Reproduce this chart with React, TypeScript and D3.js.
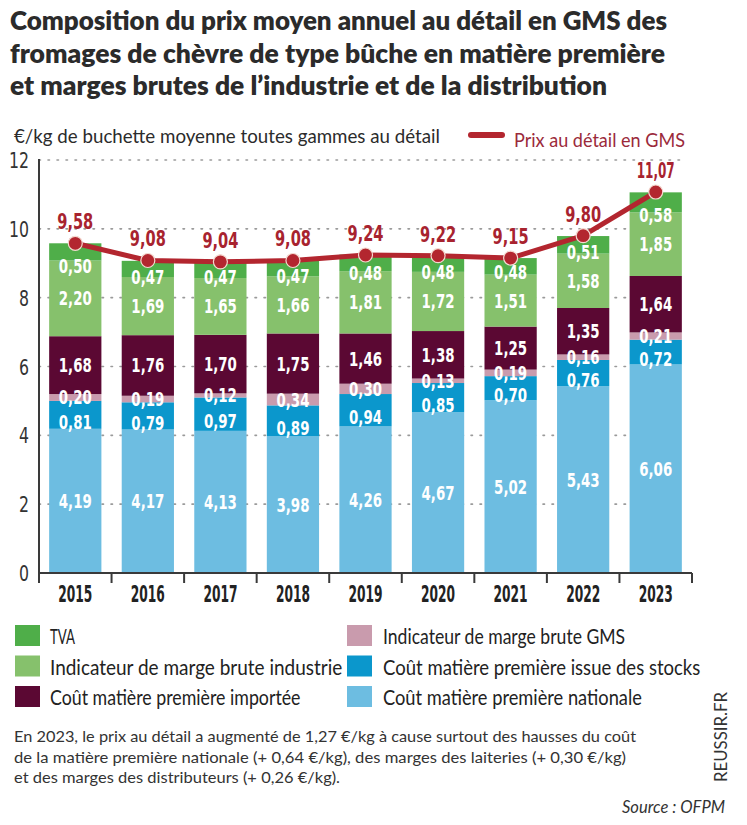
import React from "react";
import * as d3 from "d3";

const years = ["2015", "2016", "2017", "2018", "2019", "2020", "2021", "2022", "2023"];
const national = [4.19, 4.17, 4.13, 3.98, 4.26, 4.67, 5.02, 5.43, 6.06];
const stocks = [0.81, 0.79, 0.97, 0.89, 0.94, 0.85, 0.70, 0.76, 0.72];
const gms = [0.20, 0.19, 0.12, 0.34, 0.30, 0.13, 0.19, 0.16, 0.21];
const importee = [1.68, 1.76, 1.70, 1.75, 1.46, 1.38, 1.25, 1.35, 1.64];
const industrie = [2.20, 1.69, 1.65, 1.66, 1.81, 1.72, 1.51, 1.58, 1.85];
const tva = [0.50, 0.47, 0.47, 0.47, 0.48, 0.48, 0.48, 0.51, 0.58];
const prix = [9.58, 9.08, 9.04, 9.08, 9.24, 9.22, 9.15, 9.80, 11.07];
const yTicks = [0, 2, 4, 6, 8, 10, 12];

const seriesKeys = ["national", "stocks", "gms", "importee", "industrie", "tva"];
const seriesValues: Record<string, number[]> = { national, stocks, gms, importee, industrie, tva };
const seriesColors: Record<string, string> = {
  national: "#6dbde1",
  stocks: "#0b97cc",
  gms: "#c99bad",
  importee: "#5b0833",
  industrie: "#86c16c",
  tva: "#4fae49",
};
const legendItems = [
  { key: "tva", label: "TVA", col: 0, row: 0 },
  { key: "industrie", label: "Indicateur de marge brute industrie", col: 0, row: 1 },
  { key: "importee", label: "Coût matière première importée", col: 0, row: 2 },
  { key: "gms", label: "Indicateur de marge brute GMS", col: 1, row: 0 },
  { key: "stocks", label: "Coût matière première issue des stocks", col: 1, row: 1 },
  { key: "national", label: "Coût matière première nationale", col: 1, row: 2 },
];
const titleLines = [
  { text: "Composition du prix moyen annuel au détail en GMS des", w: 657 },
  { text: "fromages de chèvre de type bûche en matière première", w: 655 },
  { text: "et marges brutes de l’industrie et de la distribution", w: 597 },
];
const noteLines = [
  { text: "En 2023, le prix au détail a augmenté de 1,27 €/kg à cause surtout des hausses du coût", w: 622 },
  { text: "de la matière première nationale (+ 0,64 €/kg), des marges des laiteries (+ 0,30 €/kg)", w: 612 },
  { text: "et des marges des distributeurs (+ 0,26 €/kg).", w: 326 },
];

const fmt = (v: number) => v.toFixed(2).replace(".", ",");
const COND = "'DejaVu Sans Condensed', 'Liberation Sans Narrow', 'Roboto', sans-serif";
const SANS = "Lato, 'Open Sans', sans-serif";
const RED = "#b3262f";
const LABRED = "#a8232f";

export default function App() {
  const W = 747, H = 825;
  const x = d3.scaleBand<string>().domain(years).range([39, 692]).paddingInner(0.28).paddingOuter(0.14);
  const y = d3.scaleLinear().domain([0, 12]).range([573, 160]);
  const rows = years.map((yr, i) => {
    const o: any = { year: yr };
    seriesKeys.forEach((k) => (o[k] = seriesValues[k][i]));
    return o;
  });
  const stack = d3.stack<any>().keys(seriesKeys)(rows);
  const indLayer = stack.find((s) => s.key === "industrie")!;
  const cx = (yr: string) => (x(yr) as number) + x.bandwidth() / 2;
  const line = d3.line<number>().x((_, i) => cx(years[i])).y((d) => y(d));
  const step = x.step();
  const x0 = 39;

  return (
    <svg width={W} height={H} style={{ position: "absolute", left: 0, top: 0, background: "#fff" }}>
      <rect x={0} y={0} width={W} height={H} fill="#fff" />
      {titleLines.map((t, i) => (
        <text key={i} x={10} y={30 + i * 32.5} fontFamily={SANS} fontWeight={800} fontSize={27}
          fill="#2b2b2b" textLength={t.w} lengthAdjust="spacingAndGlyphs">{t.text}</text>
      ))}
      <text x={14} y={143} fontFamily={SANS} fontSize={20} fill="#2b2b2b" textLength={426}
        lengthAdjust="spacingAndGlyphs">€/kg de buchette moyenne toutes gammes au détail</text>
      <line x1={471} x2={502} y1={135} y2={135} stroke={RED} strokeWidth={6} strokeLinecap="round" />
      <text x={514} y={147} fontFamily={SANS} fontSize={20} fill="#9b2a3b" textLength={171}
        lengthAdjust="spacingAndGlyphs">Prix au détail en GMS</text>

      {/* gridlines */}
      {yTicks.filter((t) => t > 0).map((t) => (
        <line key={t} x1={x0} x2={686} y1={y(t)} y2={y(t)} stroke="#9a9a9a" strokeWidth={1.6}
          strokeDasharray="1.5 7.5" strokeLinecap="round" />
      ))}
      {yTicks.map((t) => (
        <text key={t} x={29} y={y(t) + 8} textAnchor="end" fontFamily={COND} fontSize={22}
          fill="#333" textLength={String(t).length * 10} lengthAdjust="spacingAndGlyphs">{t}</text>
      ))}

      {/* bars */}
      {stack.map((s) => (
        <g key={s.key} fill={seriesColors[s.key]}>
          {s.map((d, i) => (
            <rect key={i} x={x(years[i])} y={y(d[1])} width={x.bandwidth()} height={y(d[0]) - y(d[1])} />
          ))}
        </g>
      ))}
      {/* bar labels */}
      {stack.map((s) => (
        <g key={"l" + s.key}>
          {s.map((d, i) => {
            const v = d[1] - d[0];
            let cy = (y(d[0]) + y(d[1])) / 2;
            if (s.key === "tva") {
              const ind = indLayer[i];
              const indCenter = (y(ind[0]) + y(ind[1])) / 2;
              cy = Math.min(y(d[1]) + 23, indCenter - 29);
            }
            if (s.key === "stocks") cy += 7;
            const txt = fmt(v);
            return (
              <text key={i} x={cx(years[i])} y={cy + 7} textAnchor="middle" fontFamily={COND}
                fontWeight={700} fontSize={19} fill="#fff" textLength={33}
                lengthAdjust="spacingAndGlyphs">{txt}</text>
            );
          })}
        </g>
      ))}

      {/* axes */}
      <line x1={x0} x2={x0} y1={159} y2={574} stroke="#3a3a3a" strokeWidth={2} />
      <line x1={x0} x2={x0 + step * 9} y1={573} y2={573} stroke="#3a3a3a" strokeWidth={2} />
      {d3.range(10).map((i) => (
        <line key={i} x1={x0 + step * i} x2={x0 + step * i} y1={573} y2={583} stroke="#3a3a3a" strokeWidth={2} />
      ))}
      {years.map((yr) => (
        <text key={yr} x={cx(yr)} y={602} textAnchor="middle" fontFamily={COND} fontWeight={700}
          fontSize={23} fill="#222" textLength={34} lengthAdjust="spacingAndGlyphs">{yr}</text>
      ))}

      {/* price line */}
      <path d={line(prix) as string} fill="none" stroke={RED} strokeWidth={5} strokeLinejoin="round" />
      {prix.map((p, i) => (
        <g key={i}>
          <circle cx={cx(years[i])} cy={y(p)} r={7} fill={RED} stroke="#f4d9d0" strokeWidth={1.2} />
          <text x={cx(years[i])} y={y(p) - 14} textAnchor="middle" fontFamily={COND} fontWeight={700}
            fontSize={21} fill={LABRED} textLength={fmt(p).length === 5 ? 38 : 36}
            lengthAdjust="spacingAndGlyphs">{fmt(p)}</text>
        </g>
      ))}

      {/* legend */}
      {legendItems.map((it) => {
        const lx = it.col === 0 ? 15 : 347;
        const ly = 625 + it.row * 30.5;
        return (
          <g key={it.key}>
            <rect x={lx} y={ly} width={25} height={21} fill={seriesColors[it.key]} />
            <text x={lx + (it.col === 0 ? 35 : 36)} y={ly + 19} fontFamily={SANS} fontSize={21}
              fill="#222" textLength={it.label.length * 8.35} lengthAdjust="spacingAndGlyphs">{it.label}</text>
          </g>
        );
      })}

      {/* note */}
      {noteLines.map((n, i) => (
        <text key={i} x={14} y={742 + i * 20.5} fontFamily={SANS} fontSize={16} fill="#333"
          textLength={n.w} lengthAdjust="spacingAndGlyphs">{n.text}</text>
      ))}
      <text transform="translate(727,782) rotate(-90)" fontFamily={SANS} fontSize={17} fill="#333"
        textLength={90} lengthAdjust="spacingAndGlyphs">REUSSIR.FR</text>
      <text x={725} y={813} textAnchor="end" fontFamily={SANS} fontStyle="italic" fontSize={17}
        fill="#333" textLength={103} lengthAdjust="spacingAndGlyphs">Source : OFPM</text>
    </svg>
  );
}
